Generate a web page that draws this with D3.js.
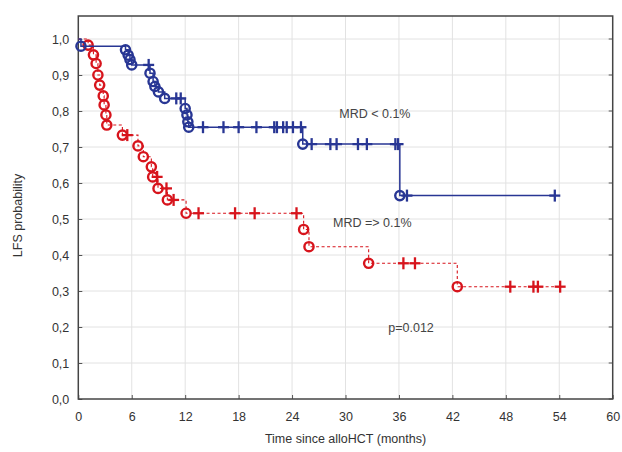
<!DOCTYPE html>
<html>
<head>
<meta charset="utf-8">
<script src="https://cdn.jsdelivr.net/npm/d3@7"></script>
<style>
  html, body { margin: 0; padding: 0; background: #fff; }
  svg { display: block; font-family: "Liberation Sans", Arial, sans-serif; }
</style>
</head>
<body>
<svg id="chart" width="622" height="452"></svg>
<script>
// Kaplan-Meier leukemia-free survival by MRD status
const xTicks = [0, 6, 12, 18, 24, 30, 36, 42, 48, 54, 60];
const yTicks = [0, 0.1, 0.2, 0.3, 0.4, 0.5, 0.6, 0.7, 0.8, 0.9, 1.0];

// MRD < 0.1% : event times (months) and survival after each event
const lowEventTimes = [0.3, 5.3, 5.6, 5.8, 6.0, 8.05, 8.4, 8.6, 9.0, 9.7, 12.0, 12.2, 12.3, 12.4, 25.2, 36.1];
const lowEventSurv  = [0.98, 0.97, 0.955, 0.943, 0.928, 0.905, 0.882, 0.868, 0.853, 0.835, 0.807, 0.789, 0.77, 0.755, 0.708, 0.565];
const lowCensorTimes = [7.9, 11.0, 11.5, 14.0, 16.3, 18.0, 20.0, 22.0, 22.3, 23.0, 23.4, 24.1, 25.0,
                        26.2, 28.3, 29.0, 31.4, 32.4, 35.6, 35.9, 36.9, 53.5];

// MRD => 0.1%
const highEventTimes = [1.1, 1.7, 2.0, 2.2, 2.4, 2.8, 2.9, 3.1, 3.2, 4.95, 6.7, 7.3, 8.2, 8.35, 8.95, 10.0, 12.1, 25.3, 25.9, 32.6, 42.55];
const highEventSurv  = [0.983, 0.956, 0.932, 0.9, 0.872, 0.842, 0.817, 0.789, 0.761, 0.733, 0.703, 0.673, 0.645, 0.617, 0.585, 0.553, 0.516, 0.471, 0.423, 0.377, 0.312];
const highCensorTimes = [5.5, 8.85, 9.9, 10.7, 13.5, 17.6, 19.8, 24.5, 36.5, 37.8, 48.5, 51.1, 51.6, 54.1];

const seriesLabels = ["MRD < 0.1%", "MRD => 0.1%"];
const pValueText = "p=0.012";

const svg = d3.select("#chart");
const plotLeft = 78.3, plotRight = 612.7, plotTop = 16, plotBottom = 399;

const x = d3.scaleLinear().domain([0, 60]).range([plotLeft, plotRight]);
const y = d3.scaleLinear().domain([0, 1]).range([plotBottom, 39]);

// grid
const grid = svg.append("g").attr("stroke", "#e2e2e2").attr("stroke-width", 1);
grid.selectAll("line.v").data(xTicks.slice(1, -1)).join("line")
  .attr("x1", d => x(d)).attr("x2", d => x(d)).attr("y1", plotTop).attr("y2", plotBottom);
grid.selectAll("line.h").data(yTicks.slice(1)).join("line")
  .attr("x1", plotLeft).attr("x2", plotRight).attr("y1", d => y(d)).attr("y2", d => y(d));

// axes with inward ticks
const xAxis = d3.axisBottom(x).tickValues(xTicks).tickSize(-4).tickPadding(13)
  .tickFormat(d3.format("d"));
const yAxis = d3.axisLeft(y).tickValues(yTicks).tickSize(-4).tickPadding(9)
  .tickFormat(d => d.toFixed(1).replace(".", ","));

const gx = svg.append("g").attr("transform", `translate(0,${plotBottom})`).call(xAxis);
const gy = svg.append("g").attr("transform", `translate(${plotLeft},0)`).call(yAxis);
[gx, gy].forEach(g => {
  g.select(".domain").remove();
  g.selectAll(".tick line").attr("stroke", "#555");
  g.selectAll(".tick text").attr("fill", "#333").style("font-size", "12.5px")
    .style("font-family", "'Liberation Sans', Arial, sans-serif");
});
// right-side ticks
svg.append("g").selectAll("line").data(yTicks).join("line")
  .attr("x1", plotRight).attr("x2", plotRight - 4).attr("y1", d => y(d)).attr("y2", d => y(d))
  .attr("stroke", "#555");

// frame
svg.append("rect").attr("x", plotLeft).attr("y", plotTop)
  .attr("width", plotRight - plotLeft).attr("height", plotBottom - plotTop)
  .attr("fill", "none").attr("stroke", "#444").attr("stroke-width", 1.5);

function stepPoints(times, surv, endT) {
  const pts = [[0, 1]];
  let p = 1;
  times.forEach((t, i) => { pts.push([t, p]); p = surv[i]; pts.push([t, p]); });
  pts.push([endT, p]);
  return pts;
}
function survAt(times, surv, t) {
  let p = 1;
  times.forEach((tt, i) => { if (tt <= t) p = surv[i]; });
  return p;
}

const line = d3.line().x(d => x(d[0])).y(d => y(d[1]));

function drawSeries(times, surv, censors, color, dash, width) {
  const g = svg.append("g");
  g.append("path").datum(stepPoints(times, surv, d3.max(censors)))
    .attr("d", line).attr("fill", "none").attr("stroke", color)
    .attr("stroke-width", width).attr("stroke-dasharray", dash);
  g.selectAll("circle").data(times.map((t, i) => [t, surv[i]])).join("circle")
    .attr("cx", d => x(d[0])).attr("cy", d => y(d[1])).attr("r", 4.6)
    .attr("fill", "none").attr("stroke", color).attr("stroke-width", 2.4);
  const c = g.selectAll("g.cens").data(censors.map(t => [t, survAt(times, surv, t)])).join("g")
    .attr("class", "cens")
    .attr("transform", d => `translate(${x(d[0])},${y(d[1])})`);
  c.append("line").attr("x1", -5.5).attr("x2", 5.5).attr("stroke", color).attr("stroke-width", 2.3);
  c.append("line").attr("y1", -6).attr("y2", 6).attr("stroke", color).attr("stroke-width", 2.3);
}

drawSeries(highEventTimes, highEventSurv, highCensorTimes, "#d7141c", "3,2.5", 1.1);
drawSeries(lowEventTimes, lowEventSurv, lowCensorTimes, "#283694", null, 1.5);

// annotations
const ann = svg.append("g").attr("fill", "#444").style("font-size", "12.5px");
ann.append("text").attr("x", x(29.3)).attr("y", 118).text(seriesLabels[0]);
ann.append("text").attr("x", x(28.6)).attr("y", 227).text(seriesLabels[1]);
ann.append("text").attr("x", x(34.8)).attr("y", 332).text(pValueText);

// axis titles
svg.append("text").attr("x", (plotLeft + plotRight) / 2).attr("y", 443).attr("text-anchor", "middle")
  .attr("fill", "#333").style("font-size", "12.5px").text("Time since alloHCT (months)");
svg.append("text").attr("transform", `translate(22,${(plotTop + plotBottom) / 2 + 8}) rotate(-90)`)
  .attr("text-anchor", "middle").attr("fill", "#333").style("font-size", "12.5px").text("LFS probability");
</script>
</body>
</html>
